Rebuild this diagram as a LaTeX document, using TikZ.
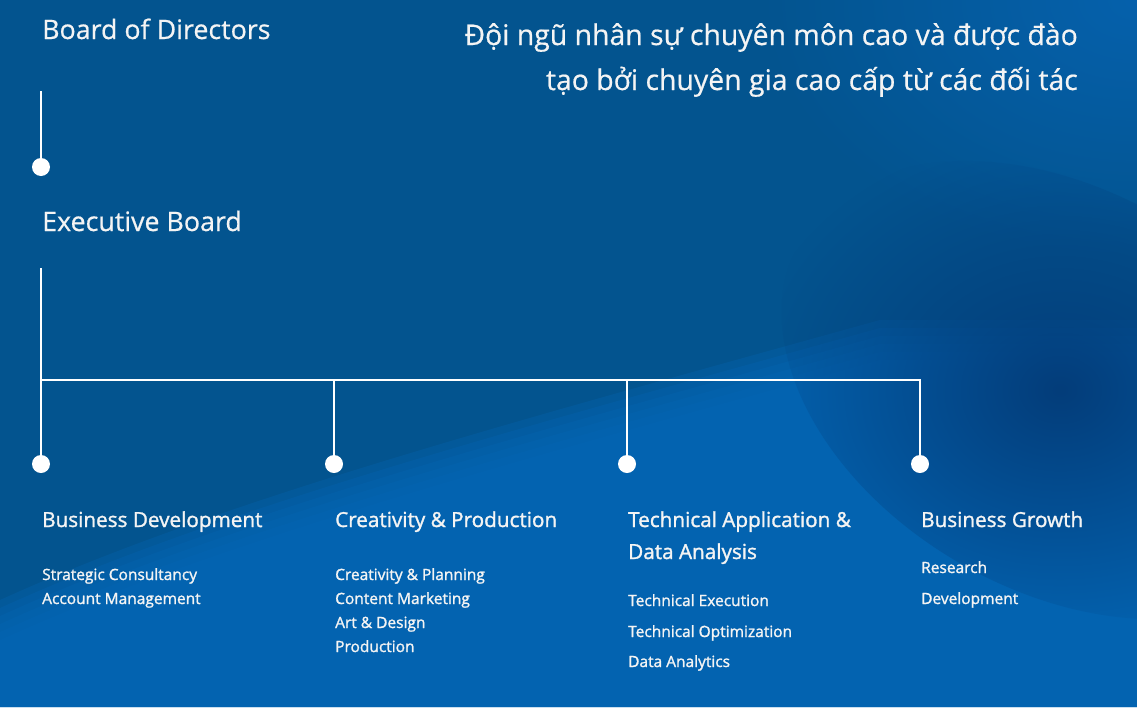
\documentclass[tikz,border=0pt]{standalone}
\usepackage{fontspec}
\setmainfont{Open Sans}[FakeBold=0.6]
\newfontfamily\medfont{Open Sans}[FakeBold=1.4]
\usetikzlibrary{positioning}
\usetikzlibrary{fadings}
\definecolor{bgmain}{HTML}{03548F}
\definecolor{bglight}{HTML}{0566B5}
\definecolor{bgdark}{HTML}{033D7A}
\definecolor{bgtop}{HTML}{0661AC}
\definecolor{txt}{HTML}{F4F4F4}
\tikzfading[name=soft, inner color=transparent!0, outer color=transparent!100]
\tikzset{circ/.style = {fill=white, circle, inner sep = 0, minimum size = 18}}
\tikzset{wire/.style = {draw=white, line width = 1.4}}
\tikzset{big/.style = {text=txt, inner sep = 0, font=\fontsize{26.8}{32}\selectfont}}
\tikzset{head/.style = {text=txt, anchor=base west, inner sep = 0, font=\medfont\fontsize{20.7}{24}\selectfont}}
\tikzset{sub/.style = {text=txt, anchor=base west, inner sep = 0, font=\medfont\fontsize{15.5}{18}\selectfont}}

\begin{document}
\begin{tikzpicture}[x=1pt, y=-1pt]
    \useasboundingbox (0, 0) rectangle (1137, 707);
    % background
    \fill [bgmain] (0, 0) rectangle (1137, 707);
    \fill [bgtop, path fading=soft] (1137, 0) ellipse [x radius=380, y radius=260];
    \foreach \s in {0, 8, ..., 40}
      \fill [bglight, opacity=0.3] (0, 600+\s) .. controls (220, 500+\s) and (520, 420+\s) .. (880, 320+\s) -- (1137, 320+\s) -- (1137, 707) -- (0, 707) -- cycle;
    \fill [bgdark, path fading=soft, rotate around={-30:(1060, 390)}] (1060, 390) ellipse [x radius=300, y radius=200];

    % top
    \node [big, anchor=base west] (bod) at (42, 39) {Board of Directors};
    \node [big, anchor=base east, font=\fontsize{28.4}{32}\selectfont] (slogan1) at (1078, 45) {Đội ngũ nhân sự chuyên môn cao và được đào};
    \node [big, anchor=base east, font=\fontsize{28.4}{32}\selectfont] (slogan2) at (1078, 90) {tạo bởi chuyên gia cao cấp từ các đối tác};

    \coordinate (t0) at (41, 91);
    \node [circ] (d0) at (41, 167) {};
    \draw [wire] (t0) -- (d0);

    \node [big, anchor=base west] (exb) at (42, 231) {Executive Board};

    % branches
    \coordinate (t1) at (41, 268);
    \coordinate (j1) at (41, 380);
    \coordinate (j2) at (334, 380);
    \coordinate (j3) at (627, 380);
    \coordinate (j4) at (920, 380);
    \node [circ] (d1) at (41, 464) {};
    \node [circ] (d2) at (334, 464) {};
    \node [circ] (d3) at (627, 464) {};
    \node [circ] (d4) at (920, 464) {};
    \draw [wire] (t1) -- (j1) -- (j4) -- (d4);
    \draw [wire] (j1) -- (d1);
    \draw [wire] (j2) -- (d2);
    \draw [wire] (j3) -- (d3);

    \node [head] (bizdev) at (42, 527) {Business Development};
    \node [sub] at (42, 580) {Strategic Consultancy};
    \node [sub] at (42, 604) {Account Management};

    \node [head] (crea) at (335, 527) {Creativity \& Production};
    \node [sub] at (335, 580) {Creativity \& Planning};
    \node [sub] at (335, 604) {Content Marketing};
    \node [sub] at (335, 628) {Art \& Design};
    \node [sub] at (335, 652) {Production};

    \node [head] (tech) at (628, 527) {Technical Application \&};
    \node [head] (tech2) at (628, 559) {Data Analysis};
    \node [sub] at (628, 606) {Technical Execution};
    \node [sub] at (628, 637) {Technical Optimization};
    \node [sub] at (628, 667) {Data Analytics};

    \node [head] (growth) at (921, 527) {Business Growth};
    \node [sub] at (921, 573) {Research};
    \node [sub] at (921, 604) {Development};
  \end{tikzpicture}
\end{document}
